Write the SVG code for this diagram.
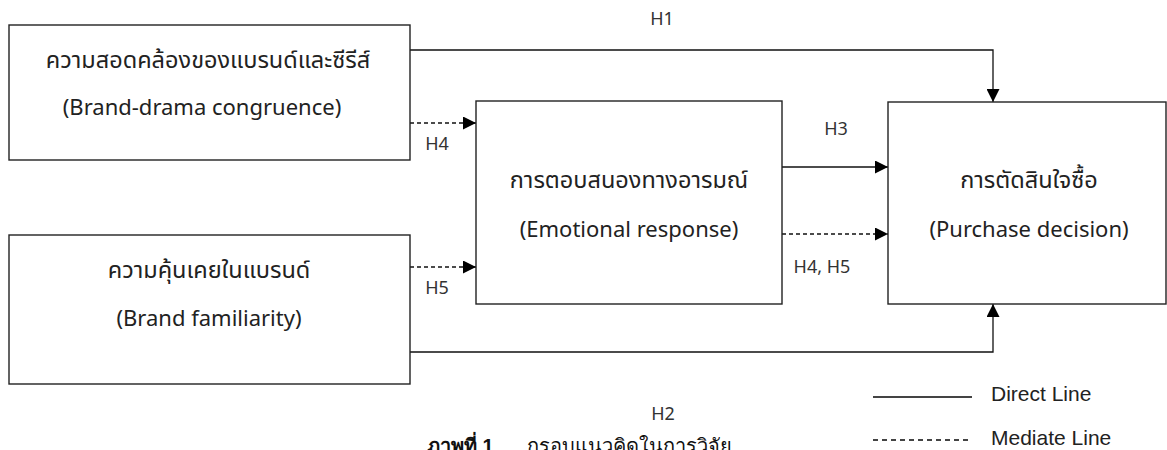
<svg xmlns="http://www.w3.org/2000/svg" width="1167" height="450" viewBox="0 0 1167 450">
<style>
.box{fill:#fff;stroke:#222;stroke-width:1.4}
.ln{fill:none;stroke:#111;stroke-width:1.3}
.dash{stroke-dasharray:4 3}
.lgl{fill:none;stroke:#444;stroke-width:1.8}
.t{font-family:"Noto Sans","Noto Sans Thai",Tahoma,sans-serif;font-size:22px;fill:#222;text-anchor:middle}
.th{font-size:23.5px}
.s{font-family:"Noto Sans","Noto Sans Thai",sans-serif;font-size:18px;fill:#333;text-anchor:middle}
.lg{font-family:"Liberation Sans","Noto Sans",sans-serif;font-size:21px;fill:#222}
.cap{font-family:"Liberation Sans","Noto Sans",sans-serif;font-size:20px;fill:#111}
</style>
<defs>
<marker id="ah" viewBox="0 0 10 10" refX="10" refY="5" markerWidth="13" markerHeight="13" markerUnits="userSpaceOnUse" orient="auto">
<path d="M0,0 L10,5 L0,10 Z" fill="#000"/>
</marker>
</defs>
<g id="connectors">
<path class="ln" d="M410,50 H993 V102" marker-end="url(#ah)"/>
<path class="ln" d="M410,352 H993 V304" marker-end="url(#ah)"/>
<path class="ln dash" d="M410,123 H476" marker-end="url(#ah)"/>
<path class="ln dash" d="M410,267 H476" marker-end="url(#ah)"/>
<path class="ln" d="M782,167 H888" marker-end="url(#ah)"/>
<path class="ln dash" d="M782,234 H888" marker-end="url(#ah)"/>
<text class="s" x="662" y="25">H1</text>
<text class="s" x="437" y="150">H4</text>
<text class="s" x="437" y="294">H5</text>
<text class="s" x="836" y="135">H3</text>
<text class="s" x="822" y="273">H4, H5</text>
<text class="s" x="663" y="420">H2</text>
</g>
<g id="node-congruence">
<rect class="box" x="9" y="25" width="401" height="135"/>
<text class="t th" x="208" y="68">ความสอดคล้องของแบรนด์และซีรีส์</text>
<text class="t" x="202" y="115">(Brand-drama congruence)</text>
</g>
<g id="node-familiarity">
<rect class="box" x="9" y="235" width="401" height="149"/>
<text class="t th" x="209" y="278">ความคุ้นเคยในแบรนด์</text>
<text class="t" x="209" y="326">(Brand familiarity)</text>
</g>
<g id="node-emotional">
<rect class="box" x="476" y="101" width="306" height="203"/>
<text class="t th" x="629" y="188">การตอบสนองทางอารมณ์</text>
<text class="t" x="629" y="237">(Emotional response)</text>
</g>
<g id="node-purchase">
<rect class="box" x="888" y="102" width="278" height="202"/>
<text class="t th" x="1029" y="188">การตัดสินใจซื้อ</text>
<text class="t" x="1029" y="237">(Purchase decision)</text>
</g>
<g id="legend">
<line class="lgl" x1="873" y1="397" x2="972" y2="397"/>
<text class="lg" x="991" y="401">Direct Line</text>
<line class="lgl" x1="873" y1="440" x2="972" y2="440" stroke-dasharray="5 4" stroke-width="1.4"/>
<text class="lg" x="991" y="445">Mediate Line</text>
</g>
<text class="cap" x="427" y="453"><tspan font-weight="bold">ภาพที่ 1</tspan><tspan x="527">กรอบแนวคิดในการวิจัย</tspan></text>
</svg>
